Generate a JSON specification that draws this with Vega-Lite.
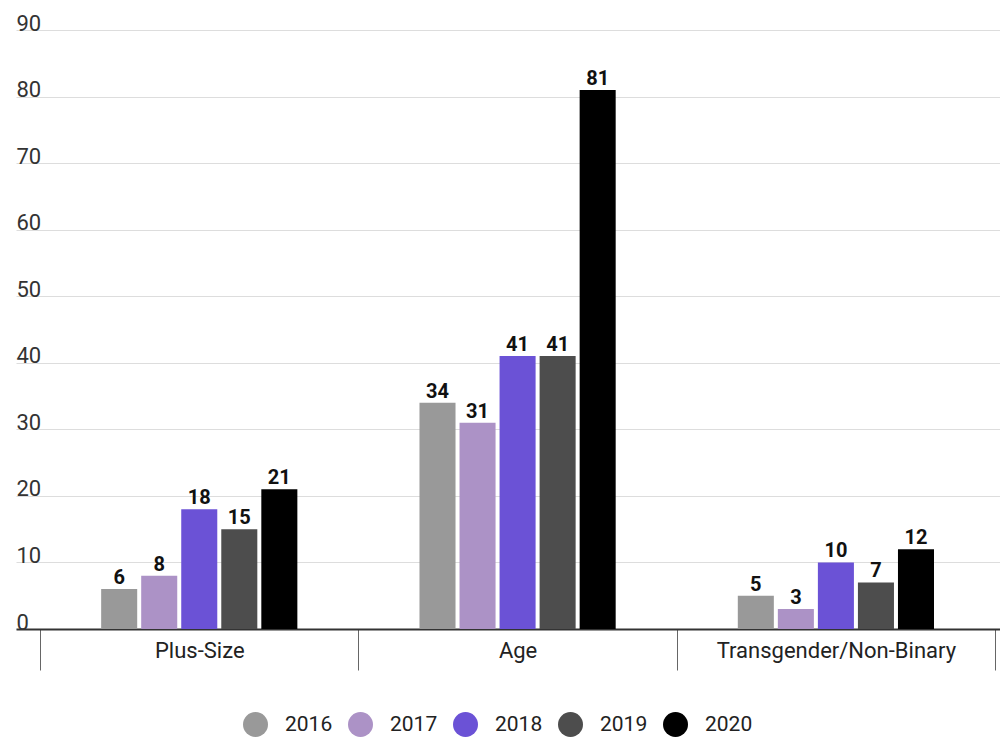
{
  "$schema": "https://vega.github.io/schema/vega-lite/v6.json",
  "width": 984,
  "height": 599,
  "autosize": {"type": "none"},
  "padding": {"left": 16, "top": 30, "right": 0, "bottom": 114},
  "background": "white",
  "config": {
    "font": "Roboto",
    "view": {"stroke": null}
  },
  "data": {
    "values": [
      {"category": "Plus-Size", "year": "2016", "value": 6},
      {"category": "Plus-Size", "year": "2017", "value": 8},
      {"category": "Plus-Size", "year": "2018", "value": 18},
      {"category": "Plus-Size", "year": "2019", "value": 15},
      {"category": "Plus-Size", "year": "2020", "value": 21},
      {"category": "Age", "year": "2016", "value": 34},
      {"category": "Age", "year": "2017", "value": 31},
      {"category": "Age", "year": "2018", "value": 41},
      {"category": "Age", "year": "2019", "value": 41},
      {"category": "Age", "year": "2020", "value": 81},
      {"category": "Transgender/Non-Binary", "year": "2016", "value": 5},
      {"category": "Transgender/Non-Binary", "year": "2017", "value": 3},
      {"category": "Transgender/Non-Binary", "year": "2018", "value": 10},
      {"category": "Transgender/Non-Binary", "year": "2019", "value": 7},
      {"category": "Transgender/Non-Binary", "year": "2020", "value": 12}
    ]
  },
  "encoding": {
    "x": {
      "field": "category",
      "type": "nominal",
      "sort": ["Plus-Size", "Age", "Transgender/Non-Binary"],
      "scale": {"paddingInner": 0, "paddingOuter": 0.0456, "align": 0.83},
      "axis": {
        "title": null,
        "labelAngle": 0,
        "labelFontSize": 22,
        "labelLimit": 0,
        "labelColor": "#222222",
        "labelBaseline": "alphabetic",
        "labelPadding": -13,
        "tickBand": "extent",
        "ticks": true,
        "tickSize": 41,
        "tickColor": "#666666",
        "tickWidth": 1,
        "domain": true,
        "domainColor": "#333333",
        "domainWidth": 2,
        "grid": false
      }
    },
    "xOffset": {
      "field": "year",
      "type": "nominal",
      "scale": {
        "domain": ["_a", "2016", "2017", "2018", "2019", "2020", "_b"],
        "paddingInner": 0.1,
        "paddingOuter": 0.525
      }
    },
    "y": {
      "field": "value",
      "type": "quantitative",
      "scale": {"domain": [0, 90], "nice": false},
      "axis": {
        "title": null,
        "values": [0, 10, 20, 30, 40, 50, 60, 70, 80, 90],
        "labelAlign": "left",
        "labelBaseline": "alphabetic",
        "labelDy": -7,
        "labelPadding": 0,
        "ticks": false,
        "tickSize": 0,
        "domain": false,
        "labelFontSize": 22,
        "labelColor": "#333333",
        "gridColor": "#dddddd",
        "gridWidth": 1
      }
    }
  },
  "layer": [
    {
      "mark": {"type": "bar"},
      "encoding": {
        "color": {
          "field": "year",
          "type": "nominal",
          "scale": {
            "domain": ["2016", "2017", "2018", "2019", "2020"],
            "range": ["#999999", "#ac92c6", "#6b52d6", "#4d4d4d", "#000000"]
          },
          "legend": {
            "title": null,
            "orient": "none",
            "legendX": 227,
            "legendY": 682,
            "direction": "horizontal",
            "symbolType": "circle",
            "symbolSize": 625,
            "symbolStrokeWidth": 0,
            "labelFontSize": 21,
            "labelColor": "#222222",
            "labelOffset": 17,
            "columnPadding": 15
          }
        }
      }
    },
    {
      "mark": {"type": "text", "baseline": "alphabetic", "dy": -5, "fontSize": 20, "fontWeight": "bold", "color": "#111111"},
      "encoding": {
        "text": {"field": "value", "type": "quantitative"}
      }
    }
  ]
}
